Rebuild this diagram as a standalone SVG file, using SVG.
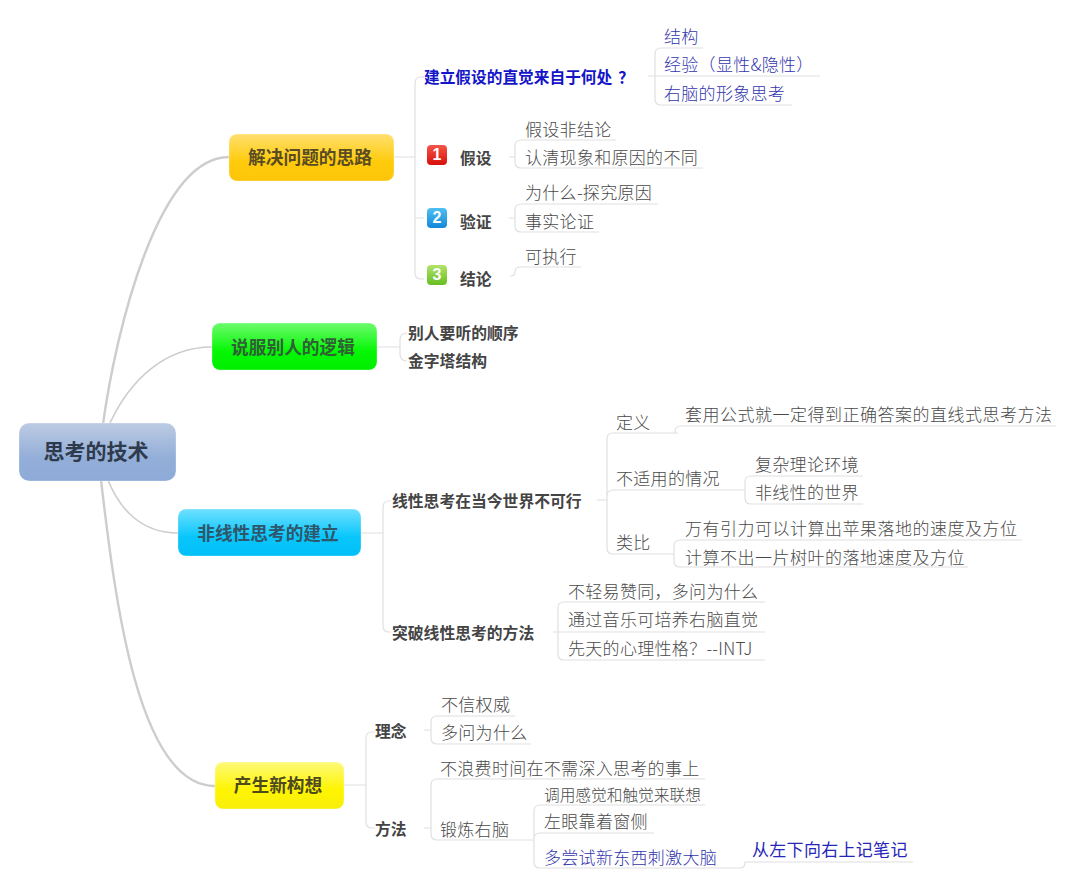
<svg xmlns="http://www.w3.org/2000/svg" width="1080" height="882" viewBox="0 0 1080 882">
<defs>
<linearGradient id="gRoot" x1="0" y1="0" x2="0" y2="1"><stop offset="0" stop-color="#bccbe3"/><stop offset="0.6" stop-color="#93aed8"/><stop offset="1" stop-color="#8eaad8"/></linearGradient>
<linearGradient id="gOrange" x1="0" y1="0" x2="0" y2="1"><stop offset="0" stop-color="#ffdf6e"/><stop offset="0.6" stop-color="#ffcb0a"/><stop offset="1" stop-color="#fdc50a"/></linearGradient>
<linearGradient id="gGreen" x1="0" y1="0" x2="0" y2="1"><stop offset="0" stop-color="#6dfb6d"/><stop offset="0.6" stop-color="#05f705"/><stop offset="1" stop-color="#00ee00"/></linearGradient>
<linearGradient id="gCyan" x1="0" y1="0" x2="0" y2="1"><stop offset="0" stop-color="#6fe0ff"/><stop offset="0.6" stop-color="#08c6fb"/><stop offset="1" stop-color="#02c0f7"/></linearGradient>
<linearGradient id="gYellow" x1="0" y1="0" x2="0" y2="1"><stop offset="0" stop-color="#fdf97a"/><stop offset="0.6" stop-color="#fff500"/><stop offset="1" stop-color="#f8ee0c"/></linearGradient>
<linearGradient id="gB1" x1="0" y1="0" x2="0" y2="1"><stop offset="0" stop-color="#f4564a"/><stop offset="1" stop-color="#d80f0a"/></linearGradient>
<linearGradient id="gB2" x1="0" y1="0" x2="0" y2="1"><stop offset="0" stop-color="#4fc0f2"/><stop offset="1" stop-color="#1289d8"/></linearGradient>
<linearGradient id="gB3" x1="0" y1="0" x2="0" y2="1"><stop offset="0" stop-color="#b2e46a"/><stop offset="1" stop-color="#68bd22"/></linearGradient>
</defs>
<style>
text{font-family:"Noto Sans CJK SC","Liberation Sans",sans-serif}
.title{font-size:17.7px;font-weight:700;text-anchor:middle}
.rt{font-size:21px;font-weight:700;fill:#2f3a4c;text-anchor:middle}
.b{font-size:15.8px;font-weight:700;fill:#444}
.bb{font-size:15.7px;font-weight:700;fill:#1414c8}
.l{font-size:17px;font-weight:300;fill:#4a4a4a;letter-spacing:.3px}
.w{letter-spacing:.5px}
.s{font-size:15.7px;font-weight:300;fill:#4a4a4a}
.lb{font-size:17px;font-weight:300;fill:#3236ae;letter-spacing:.3px}
.ld{font-size:17px;font-weight:400;fill:#2626b8;letter-spacing:.3px}
.num{font-size:16px;font-weight:700;fill:#fff;text-anchor:middle;font-family:"Liberation Sans",sans-serif}
.main{fill:none;stroke:#cdcdcd;stroke-linecap:round}
.c{fill:none;stroke:#e0e0e0;stroke-width:1.2}
.node{stroke:#fff;stroke-opacity:.3;stroke-width:1}
</style>
<g id="connectors">
<path class="main" stroke-width="2.4" d="M103 424C116 330 158 157 229 157"/>
<path class="main" stroke-width="1.6" d="M110 423C130 380 165 347 212 347"/>
<path class="main" stroke-width="1.6" d="M108 480C120 510 142 533 178 533"/>
<path class="main" stroke-width="2.4" d="M101 480C115 600 138 786 215 786"/>
<path class="c" d="M394 157H415M424 77H421Q415 77 415 83V273Q415 279 421 279H424M415 218H424"/>
<path class="c" d="M648 76H820M703 48H661Q655 48 655 54V99Q655 105 661 105H792"/>
<path class="c" d="M509 157H515M616 140H521Q515 140 515 146V162Q515 168 521 168H703"/>
<path class="c" d="M509 218H515M658 204H521Q515 204 515 210V226Q515 232 521 232H599"/>
<path class="c" d="M510 276H511Q515 276 515 272Q515 267 520 267H581"/>
<path class="c" d="M377 347H400M407 333Q400 333 400 340V354Q400 361 407 361"/>
<path class="c" d="M361 533H383M391 501H389Q383 501 383 507V626Q383 632 389 632H391"/>
<path class="c" d="M597 500H607M678 433H613Q607 433 607 439V548Q607 554 613 554H674M607 496Q607 490 613 490H745M1056 426H681Q675 426 675 432V433"/>
<path class="c" d="M863 476H751Q745 476 745 482V498Q745 504 751 504H863"/>
<path class="c" d="M1022 540H680Q674 540 674 546V561Q674 567 680 567H968"/>
<path class="c" d="M553 632H765M765 602H564Q558 602 558 608V654Q558 660 564 660H765"/>
<path class="c" d="M344 785H366M375 732H372Q366 732 366 738V822Q366 828 372 828H375"/>
<path class="c" d="M424 730H431M515 716H437Q431 716 431 722V738Q431 744 437 744H531"/>
<path class="c" d="M424 828H431M705 779H437Q431 779 431 785V834Q431 840 437 840H534"/>
<path class="c" d="M705 805H540Q534 805 534 811V862Q534 868 540 868H740Q745 868 745 862H913M534 839Q534 833 540 833H654"/>
</g>
<g id="root"><rect class="node" x="19" y="423" width="157" height="58" rx="10" fill="url(#gRoot)"/><text class="rt" x="96" y="459">思考的技术</text></g>
<g id="n1"><rect class="node" x="229" y="134" width="165" height="47" rx="8" fill="url(#gOrange)"/><text class="title" fill="#5a4c22" x="310" y="164">解决问题的思路</text></g>
<g id="n2"><rect class="node" x="212" y="323" width="165" height="47" rx="8" fill="url(#gGreen)"/><text class="title" fill="#2f6135" x="293" y="354">说服别人的逻辑</text></g>
<g id="n3"><rect class="node" x="178" y="509" width="183" height="47" rx="8" fill="url(#gCyan)"/><text class="title" fill="#2f566a" x="268" y="540">非线性思考的建立</text></g>
<g id="n4"><rect class="node" x="215" y="762" width="129" height="47" rx="8" fill="url(#gYellow)"/><text class="title" fill="#4d4a1c" x="278" y="792">产生新构想</text></g>

<g id="n1-0"><text class="bb" x="424" y="83">建立假设的直觉来自于何处<tspan dx="6">？</tspan></text></g>
<g id="n1-0a"><text class="lb" x="664" y="43">结构</text></g>
<g id="n1-0b"><text class="lb" x="664" y="71">经验（显性&amp;隐性）</text></g>
<g id="n1-0c"><text class="lb" x="664" y="100">右脑的形象思考</text></g>
<g id="n1-1"><rect x="427" y="145" width="20" height="20" rx="4" fill="url(#gB1)"/><text class="num" x="437" y="160">1</text><text class="b" x="460" y="164">假设</text></g>
<g id="n1-1a"><text class="l" x="525" y="136">假设非结论</text></g>
<g id="n1-1b"><text class="l" x="525" y="164">认清现象和原因的不同</text></g>
<g id="n1-2"><rect x="427" y="208" width="20" height="20" rx="4" fill="url(#gB2)"/><text class="num" x="437" y="223">2</text><text class="b" x="460" y="228">验证</text></g>
<g id="n1-2a"><text class="l" x="525" y="199">为什么-探究原因</text></g>
<g id="n1-2b"><text class="l" x="525" y="228">事实论证</text></g>
<g id="n1-3"><rect x="427" y="265" width="20" height="20" rx="4" fill="url(#gB3)"/><text class="num" x="437" y="280">3</text><text class="b" x="460" y="285">结论</text></g>
<g id="n1-3a"><text class="l" x="525" y="263">可执行</text></g>

<g id="n2-a"><text class="b" x="408" y="339">别人要听的顺序</text></g>
<g id="n2-b"><text class="b" x="408" y="367">金字塔结构</text></g>

<g id="n3-1"><text class="b" x="392" y="507">线性思考在当今世界不可行</text></g>
<g id="n3-1a"><text class="l" x="616" y="429">定义</text></g>
<g id="n3-1a1"><text class="l w" x="685" y="421">套用公式就一定得到正确答案的直线式思考方法</text></g>
<g id="n3-1b"><text class="l" x="616" y="485">不适用的情况</text></g>
<g id="n3-1b1"><text class="l" x="755" y="471">复杂理论环境</text></g>
<g id="n3-1b2"><text class="l" x="755" y="499">非线性的世界</text></g>
<g id="n3-1c"><text class="l" x="616" y="549">类比</text></g>
<g id="n3-1c1"><text class="l w" x="685" y="535">万有引力可以计算出苹果落地的速度及方位</text></g>
<g id="n3-1c2"><text class="l w" x="685" y="564">计算不出一片树叶的落地速度及方位</text></g>
<g id="n3-2"><text class="b" x="392" y="639">突破线性思考的方法</text></g>
<g id="n3-2a"><text class="l" x="568" y="598">不轻易赞同，多问为什么</text></g>
<g id="n3-2b"><text class="l" x="568" y="626">通过音乐可培养右脑直觉</text></g>
<g id="n3-2c"><text class="l" x="568" y="655">先天的心理性格？--INTJ</text></g>

<g id="n4-1"><text class="b" x="375" y="737">理念</text></g>
<g id="n4-1a"><text class="l" x="441" y="711">不信权威</text></g>
<g id="n4-1b"><text class="l" x="441" y="739">多问为什么</text></g>
<g id="n4-2"><text class="b" x="375" y="835">方法</text></g>
<g id="n4-2a"><text class="l" x="440" y="775">不浪费时间在不需深入思考的事上</text></g>
<g id="n4-2b"><text class="l" x="440" y="836">锻炼右脑</text></g>
<g id="n4-2b1"><text class="s" x="544" y="801">调用感觉和触觉来联想</text></g>
<g id="n4-2b2"><text class="l" x="544" y="828">左眼靠着窗侧</text></g>
<g id="n4-2b3"><text class="lb" x="544" y="864">多尝试新东西刺激大脑</text></g>
<g id="n4-2b3a"><text class="ld" x="752" y="856">从左下向右上记笔记</text></g>
</svg>
